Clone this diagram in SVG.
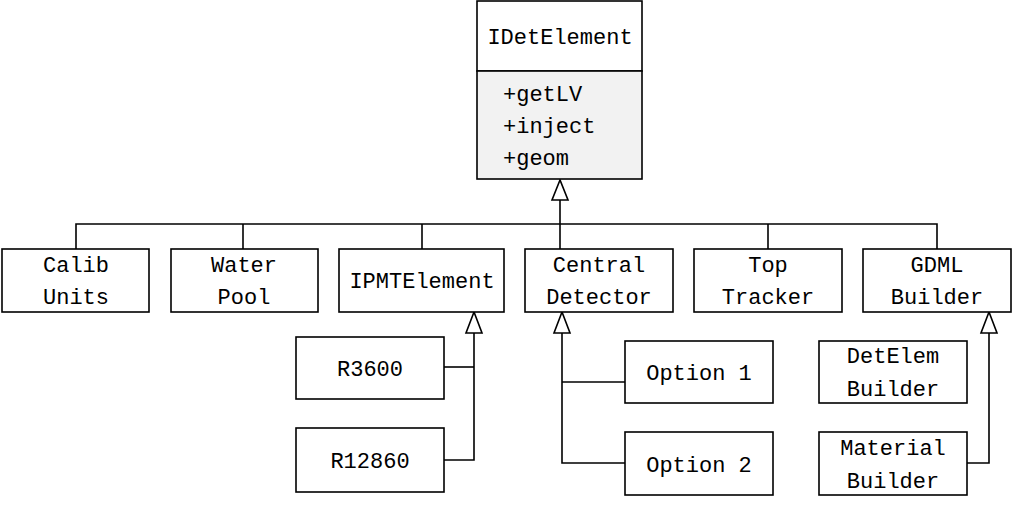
<svg xmlns="http://www.w3.org/2000/svg" width="1013" height="505" viewBox="0 0 1013 505">
<defs>
<style>
.box{fill:#fff;stroke:#000;stroke-width:1.6}
.gray{fill:#f2f2f2;stroke:#000;stroke-width:1.6}
.ln{fill:none;stroke:#000;stroke-width:1.6}
.tri{fill:#fff;stroke:#000;stroke-width:1.6}
text{font-family:"Liberation Mono","DejaVu Sans Mono",monospace;font-size:22px;fill:#000}
.c{text-anchor:middle}
</style>
</defs>
<rect width="1013" height="505" fill="#fff"/>
<g id="connectors">
<polyline class="ln" points="76,249 76,224 937,224 937,249"/>
<line class="ln" x1="243" y1="224" x2="243" y2="249"/>
<line class="ln" x1="422" y1="224" x2="422" y2="249"/>
<line class="ln" x1="768" y1="224" x2="768" y2="249"/>
<line class="ln" x1="560" y1="200" x2="560" y2="249"/>
<polygon class="tri" points="560,180 552,200 568,200"/>
<polyline class="ln" points="444,367 474,367"/>
<polyline class="ln" points="444,460 474,460 474,333"/>
<polygon class="tri" points="474,312 466,333 482,333"/>
<polyline class="ln" points="625,382 562,382"/>
<polyline class="ln" points="625,463 562,463 562,333"/>
<polygon class="tri" points="562,312 554,333 570,333"/>
<polyline class="ln" points="967,463 989,463 989,333"/>
<polygon class="tri" points="989,312 981,333 997,333"/>
</g>
<g id="IDetElement">
<rect class="box" x="477" y="1" width="165" height="70"/>
<rect class="gray" x="477" y="71" width="165" height="108"/>
<text class="c" x="560" y="44">IDetElement</text>
<text x="503" y="101">+getLV</text>
<text x="503" y="133">+inject</text>
<text x="503" y="165">+geom</text>
</g>
<g id="CalibUnits">
<rect class="box" x="2" y="249" width="147" height="63"/>
<text class="c" x="76" y="272">Calib</text>
<text class="c" x="76" y="304">Units</text>
</g>
<g id="WaterPool">
<rect class="box" x="171" y="249" width="147" height="63"/>
<text class="c" x="244" y="272">Water</text>
<text class="c" x="244" y="304">Pool</text>
</g>
<g id="IPMTElement">
<rect class="box" x="339" y="249" width="165" height="63"/>
<text class="c" x="422" y="288">IPMTElement</text>
</g>
<g id="CentralDetector">
<rect class="box" x="525" y="249" width="148" height="63"/>
<text class="c" x="599" y="272">Central</text>
<text class="c" x="599" y="304">Detector</text>
</g>
<g id="TopTracker">
<rect class="box" x="694" y="249" width="148" height="63"/>
<text class="c" x="768" y="272">Top</text>
<text class="c" x="768" y="304">Tracker</text>
</g>
<g id="GDMLBuilder">
<rect class="box" x="863" y="249" width="148" height="63"/>
<text class="c" x="937" y="272">GDML</text>
<text class="c" x="937" y="304">Builder</text>
</g>
<g id="R3600">
<rect class="box" x="296" y="337" width="148" height="62"/>
<text class="c" x="370" y="376">R3600</text>
</g>
<g id="R12860">
<rect class="box" x="296" y="428" width="148" height="64"/>
<text class="c" x="370" y="468">R12860</text>
</g>
<g id="Option1">
<rect class="box" x="625" y="341" width="148" height="62"/>
<text class="c" x="699" y="380">Option 1</text>
</g>
<g id="Option2">
<rect class="box" x="625" y="432" width="148" height="63"/>
<text class="c" x="699" y="472">Option 2</text>
</g>
<g id="DetElemBuilder">
<rect class="box" x="819" y="341" width="148" height="62"/>
<text class="c" x="893" y="363">DetElem</text>
<text class="c" x="893" y="396">Builder</text>
</g>
<g id="MaterialBuilder">
<rect class="box" x="819" y="432" width="148" height="63"/>
<text class="c" x="893" y="455">Material</text>
<text class="c" x="893" y="488">Builder</text>
</g>
</svg>
